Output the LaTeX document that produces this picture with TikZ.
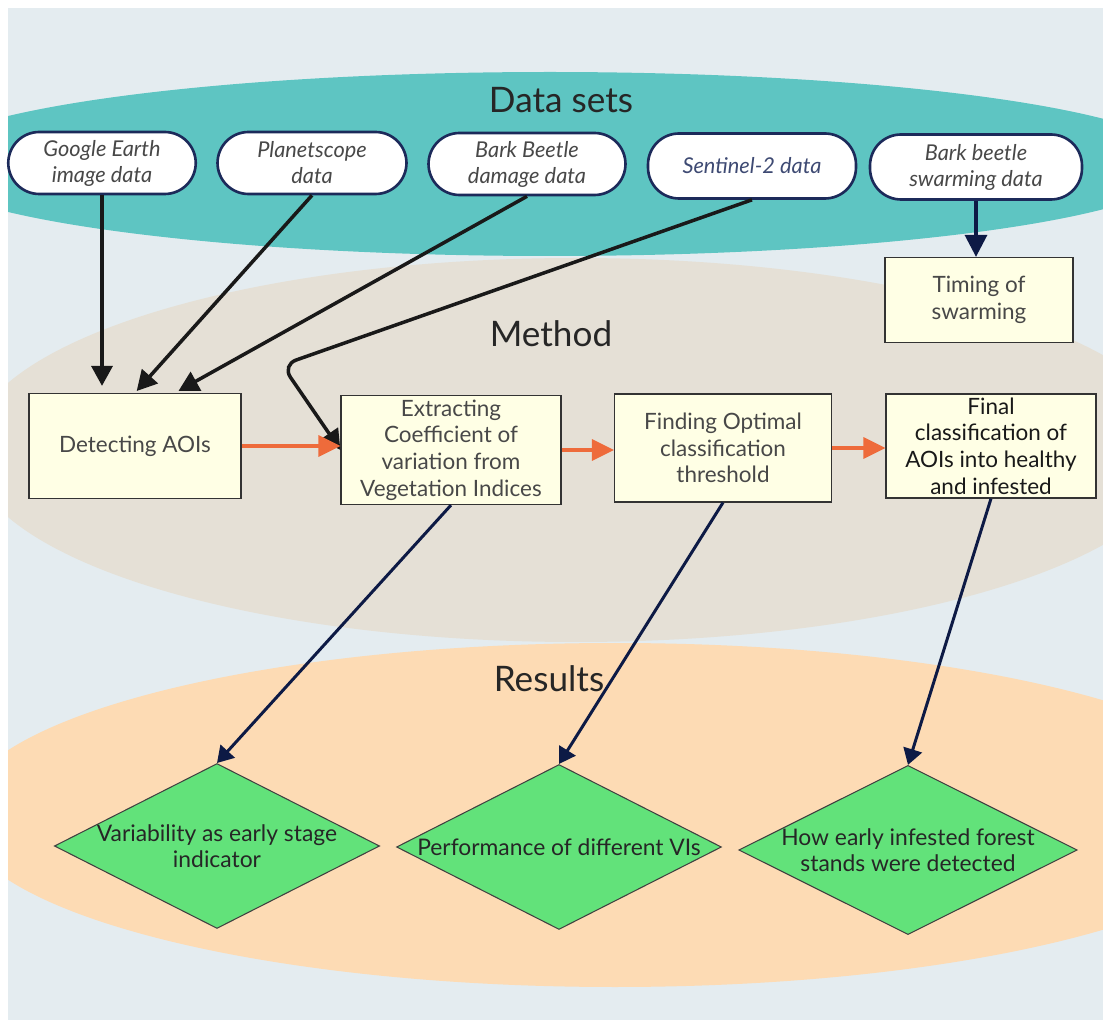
\documentclass[tikz,border=0pt]{standalone}
\usepackage{fontspec}
\setmainfont{Lato}
\usetikzlibrary{shapes.geometric,arrows.meta,positioning,calc}
\definecolor{pagebg}{RGB}{228,236,240}
\definecolor{tealband}{RGB}{94,197,194}
\definecolor{methodband}{RGB}{229,224,214}
\definecolor{resultband}{RGB}{253,219,180}
\definecolor{notefill}{RGB}{255,255,229}
\definecolor{leafgreen}{RGB}{98,226,122}
\definecolor{navyline}{RGB}{13,26,69}
\definecolor{ovalrim}{RGB}{28,42,90}
\definecolor{flowred}{RGB}{238,107,59}
\definecolor{textgray}{RGB}{72,72,72}

\begin{document}
\begin{tikzpicture}[x=0.02cm, y=-0.02cm,
    bandtitle/.style={font=\fontsize{20}{24}\selectfont, text=black!85},
    dataset/.style={rectangle, draw=ovalrim, line width=1.5pt, fill=white,
                    rounded corners=0.62cm, minimum height=1.24cm, inner sep=2pt,
                    align=center, text=textgray,
                    font=\fontsize{12.4}{14.8}\selectfont\itshape},
    stepbox/.style={rectangle, draw=black!80, line width=0.7pt, fill=notefill,
                    minimum height=2.1cm, inner sep=1pt, align=center, text=textgray,
                    font=\fontsize{12.8}{15.2}\selectfont},
    outcome/.style={diamond, draw=black!75, line width=0.6pt, fill=leafgreen,
                    aspect=2, inner sep=0pt, minimum width=6.5cm, minimum height=3.3cm,
                    align=center, text=black!85, font=\fontsize{13}{14.5}\selectfont},
    feed/.style={-{Triangle[length=0.4cm,width=0.42cm]}, line width=2pt, black!90},
    flow/.style={-{Triangle[length=0.44cm,width=0.42cm]}, line width=1.9pt, flowred},
    result/.style={-{Triangle[length=0.32cm,width=0.38cm]}, line width=1.7pt, navyline}
]
    \useasboundingbox (0,0) rectangle (1103,1020);
    \fill[pagebg] (8,8) rectangle (1103,1020);
    \begin{scope}
        \clip (8,8) rectangle (1103,1020);
        \fill[methodband] (576,450) ellipse [x radius=606, y radius=192];
        \fill[resultband] (615,815) ellipse [x radius=655, y radius=172];
        \fill[tealband] (550,164) ellipse [x radius=635, y radius=92];
    \end{scope}

    \node[bandtitle] (dstitle) at (561,100) {Data sets};
    \node[bandtitle] (mtitle) at (551,334) {Method};
    \node[bandtitle] (rtitle) at (549,679) {Results};

    \node[dataset, minimum width=3.75cm] (ge) at (102,163) {Google Earth\\image data};
    \node[dataset, minimum width=3.78cm] (pl) at (312,163) {Planetscope\\data};
    \node[dataset, minimum width=3.94cm] (bb) at (527,164) {Bark Beetle\\damage data};
    \node[dataset, minimum width=4.16cm, minimum height=1.3cm, text=ovalrim!85] (se) at (752,166) {Sentinel-2 data};
    \node[dataset, minimum width=4.24cm, minimum height=1.3cm] (sw) at (976,167) {Bark beetle\\swarming data};

    \node[stepbox, minimum width=3.76cm, minimum height=1.7cm] (tim) at (979,300) {Timing of\\swarming};
    \node[stepbox, minimum width=4.24cm] (aoi) at (135,446) {Detecting AOIs};
    \node[stepbox, minimum width=4.4cm, minimum height=2.18cm] (ext) at (451,450) {Extracting\\Coefficient of\\variation from\\Vegetation Indices};
    \node[stepbox, minimum width=4.34cm, minimum height=2.16cm] (fin) at (723,448) {Finding Optimal\\classification\\threshold};
    \node[stepbox, minimum width=4.2cm, minimum height=2.08cm, text=black!90] (fnl) at (991,446) {Final\\classification of\\AOIs into healthy\\and infested};

    \node[outcome] (d1) at (217,846) {Variability as early stage\\indicator};
    \node[outcome] (d2) at (559,847) {Performance of different VIs};
    \node[outcome] (d3) at (908,850) {How early infested forest\\stands were detected};

    \coordinate (aoiright) at ($(aoi.north)+(40,0)$);
    \coordinate (bend) at (282,365);

    \draw[feed, shorten >=0.14cm] (ge.south) -- (ge.south |- aoi.north);
    \draw[feed, shorten >=0.05cm] (pl.south) -- (aoi.north);
    \draw[feed, shorten >=0.08cm] (bb.south) -- (aoiright);
    \draw[feed, rounded corners=0.3cm] (se.south) -- (bend) -- (ext.west);
    \draw[-{Triangle[length=0.44cm,width=0.44cm]}, line width=1.9pt, navyline] (sw.south) -- (sw.south |- tim.north);

    \draw[flow] (aoi.east) -- (aoi.east -| ext.west);
    \draw[flow] (ext.east) -- (ext.east -| fin.west);
    \draw[flow] (fin.east) -- (fin.east -| fnl.west);

    \foreach \a/\b in {ext/d1,fin/d2,fnl/d3} \draw[result] (\a.south) -- (\b.north);
\end{tikzpicture}
\end{document}
